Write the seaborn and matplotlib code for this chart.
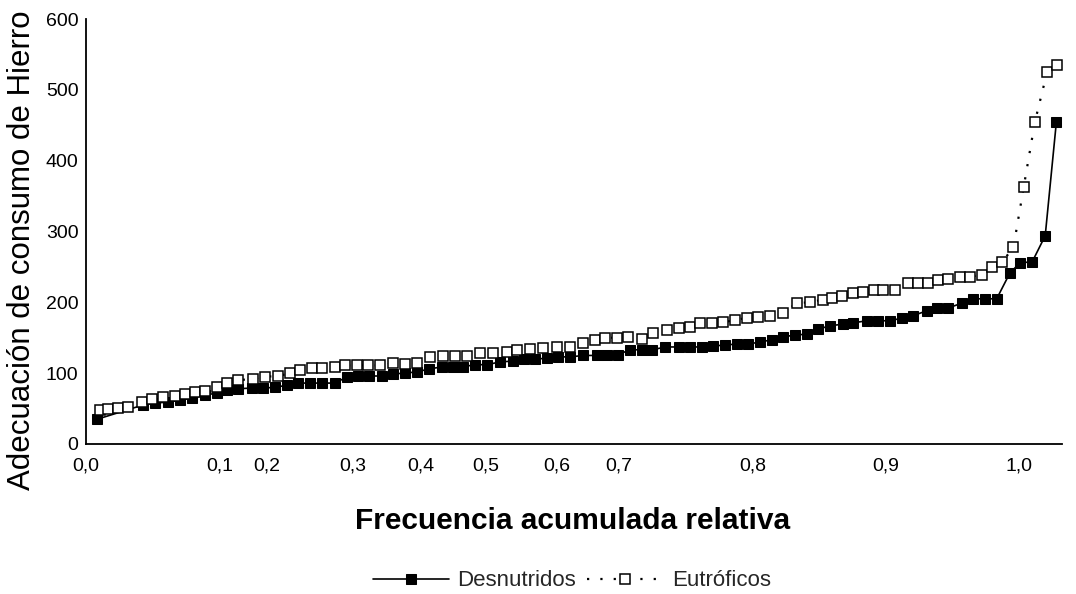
import matplotlib
matplotlib.use("Agg")
import matplotlib.pyplot as plt
import seaborn as sns

# ---- data (x = relative cumulative frequency on the chart's axis, y = value) ----
desn_x = [0.012, 0.061, 0.074, 0.088, 0.101, 0.114, 0.128, 0.140, 0.151, 0.163,
          0.178, 0.190, 0.203, 0.215, 0.227, 0.240, 0.253, 0.267, 0.280, 0.292,
          0.303, 0.317, 0.329, 0.342, 0.355, 0.368, 0.382, 0.393, 0.404, 0.417,
          0.430, 0.444, 0.458, 0.469, 0.481, 0.494, 0.506, 0.519, 0.533, 0.548,
          0.558, 0.570, 0.583, 0.596, 0.607, 0.621, 0.635, 0.647, 0.660, 0.672,
          0.685, 0.698, 0.710, 0.722, 0.735, 0.747, 0.760, 0.773, 0.785, 0.797,
          0.811, 0.822, 0.837, 0.849, 0.862, 0.875, 0.886, 0.901, 0.912, 0.924,
          0.939, 0.951, 0.964, 0.976, 0.990, 1.001, 1.014, 1.028, 1.040]
desn_y = [35, 55, 58, 59, 62, 65, 69, 72, 76, 78,
          79, 79, 80, 83, 86, 86, 86, 86, 95, 96,
          96, 96, 99, 100, 102, 106, 109, 109, 109, 112,
          112, 116, 117, 120, 120, 121, 123, 123, 125, 125,
          125, 126, 133, 133, 133, 137, 137, 137, 137, 138,
          140, 141, 141, 144, 147, 151, 154, 155, 162, 167,
          169, 171, 174, 174, 174, 178, 181, 188, 192, 192,
          199, 205, 205, 205, 241, 256, 257, 294, 455]

eutr_x = [0.015, 0.024, 0.034, 0.045, 0.060, 0.071, 0.083, 0.095, 0.106, 0.117,
          0.128, 0.140, 0.151, 0.163, 0.179, 0.192, 0.206, 0.219, 0.229, 0.242,
          0.253, 0.267, 0.278, 0.290, 0.302, 0.315, 0.329, 0.342, 0.355, 0.369,
          0.383, 0.395, 0.408, 0.422, 0.436, 0.451, 0.462, 0.476, 0.490, 0.505,
          0.519, 0.533, 0.546, 0.556, 0.569, 0.581, 0.596, 0.608, 0.623, 0.635,
          0.647, 0.658, 0.671, 0.683, 0.696, 0.708, 0.720, 0.733, 0.747, 0.762,
          0.776, 0.790, 0.800, 0.810, 0.822, 0.833, 0.844, 0.854, 0.867, 0.881,
          0.892, 0.902, 0.913, 0.924, 0.937, 0.947, 0.960, 0.971, 0.982, 0.994,
          1.005, 1.017, 1.030, 1.041]
eutr_y = [48, 50, 51, 52, 60, 63, 66, 68, 71, 73,
          75, 80, 86, 90, 92, 95, 96, 100, 104, 107,
          107, 109, 111, 111, 111, 111, 114, 113, 114, 123,
          124, 124, 124, 128, 128, 130, 133, 134, 135, 137,
          137, 143, 147, 150, 150, 151, 148, 157, 161, 164,
          165, 171, 171, 172, 175, 178, 179, 181, 185, 199,
          200, 204, 206, 209, 213, 215, 217, 217, 217, 227,
          227, 227, 231, 233, 236, 236, 239, 250, 257, 278,
          363, 455, 525, 535]

series_names = ["Desnutridos", "Eutróficos"]
y_ticks = [0, 100, 200, 300, 400, 500, 600]
x_tick_labels = ["0,0", "0,1", "0,3", "0,5", "0,7", "0,8", "0,9", "1,0"]
x_tick_pos = [0, 1/7, 2/7, 3/7, 4/7, 5/7, 6/7, 1.0]
x_extra_labels = ["0,2", "0,4", "0,6"]
x_extra_pos = [0.194, 0.359, 0.504]

sns.set_style("white")
plt.rcParams["font.family"] = ["Liberation Sans", "DejaVu Sans"]

fig = plt.figure(figsize=(10.76, 5.94), dpi=100)
ax = fig.add_axes([86/1076, 1 - 444/594, (1062 - 86)/1076, (444 - 19)/594])

sns.lineplot(x=desn_x, y=desn_y, ax=ax, sort=False, estimator=None,
             color="black", linewidth=1.2, marker="s", markersize=7.5,
             markerfacecolor="black", markeredgecolor="black", legend=False)
sns.lineplot(x=eutr_x, y=eutr_y, ax=ax, sort=False, estimator=None,
             color="black", linewidth=1.6, linestyle=(0, (1, 5)),
             marker="s", markersize=6.5, markerfacecolor="white",
             markeredgecolor="black", markeredgewidth=1.1, legend=False)

ax.set_xlim(0, 1.046)
ax.set_ylim(0, 600)
ax.set_yticks(y_ticks)
ax.set_yticklabels([str(v) for v in y_ticks])
ax.set_xticks(x_tick_pos)
ax.set_xticklabels(x_tick_labels)
ax.set_xticks(x_extra_pos, minor=True)
ax.set_xticklabels(x_extra_labels, minor=True)
ax.set_xlabel("")
ax.set_ylabel("")

for s in ["top", "right"]:
    ax.spines[s].set_visible(False)
for s in ["left", "bottom"]:
    ax.spines[s].set_color("black")
    ax.spines[s].set_linewidth(1.3)

ax.tick_params(axis="both", which="major", direction="out", length=4,
               width=1.1, color="black", labelsize=14, labelcolor="black")
ax.tick_params(axis="y", which="major", pad=1.5)
ax.tick_params(axis="x", which="major", pad=6)
ax.tick_params(axis="x", which="minor", length=0, pad=10, labelsize=14,
               labelcolor="black")

fig.text(22/1076, 1 - 250/594, "Adecuación de consumo de Hierro",
         rotation=90, ha="center", va="center", fontsize=22.5, color="black")
fig.text(573/1076, 1 - 521/594, "Frecuencia acumulada relativa",
         ha="center", va="center", fontsize=21.5, fontweight="bold", color="black")

handles = ax.get_lines()[:2]
fig.legend(handles, series_names, loc="center",
           bbox_to_anchor=(572/1076, 1 - 581/594), ncol=2, frameon=False,
           fontsize=16, handlelength=3.4, handletextpad=0.4, columnspacing=0.5,
           borderaxespad=0)

fig.savefig("out.png", dpi=100, facecolor="white")
